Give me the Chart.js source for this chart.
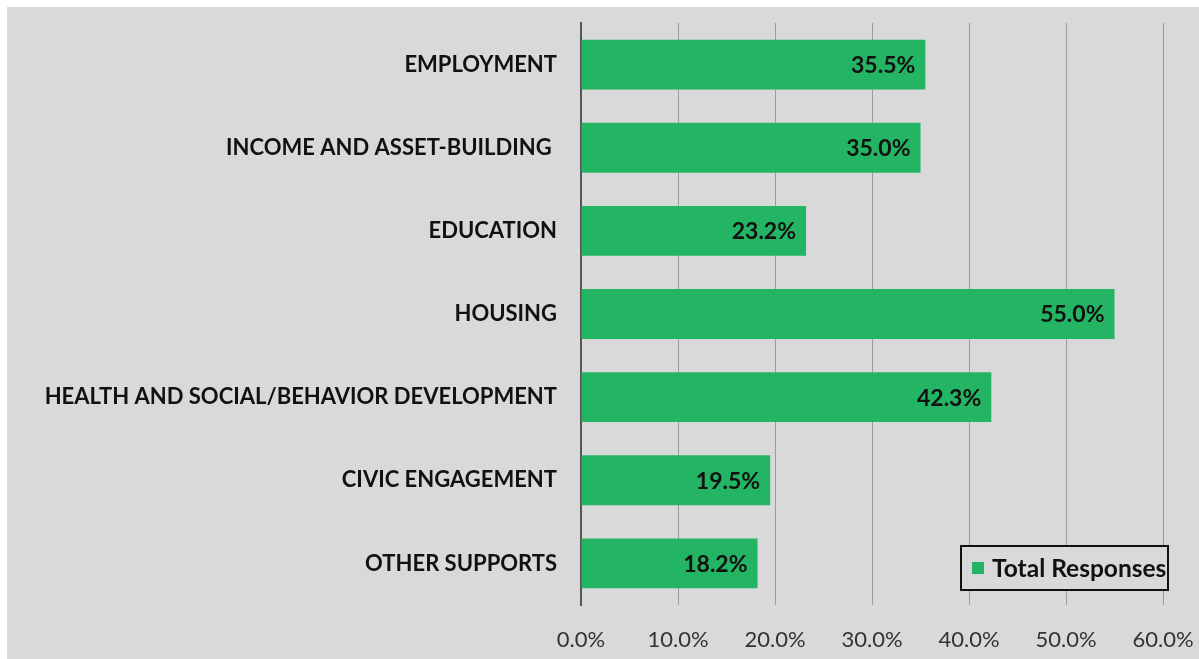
<!DOCTYPE html>
<html>
<head>
<meta charset="utf-8">
<script src="https://cdn.jsdelivr.net/npm/chart.js@4/dist/chart.umd.min.js"></script>
<style>
html,body{margin:0;padding:0;background:#ffffff;}
#wrap{position:absolute;left:7px;top:7px;width:1192px;height:652px;background:#d9d9d9;}
canvas{display:block;}
</style>
</head>
<body>
<div id="wrap"><canvas id="c" width="1192" height="652"></canvas></div>
<script>
const categories = [
  "EMPLOYMENT",
  "INCOME AND ASSET-BUILDING ",
  "EDUCATION",
  "HOUSING",
  "HEALTH AND SOCIAL/BEHAVIOR DEVELOPMENT",
  "CIVIC ENGAGEMENT",
  "OTHER SUPPORTS"
];
const totalResponses = [35.5, 35.0, 23.2, 55.0, 42.3, 19.5, 18.2];
const seriesName = "Total Responses";
const xTicks = [0, 10, 20, 30, 40, 50, 60];

const FONT = "Lato, 'Open Sans', sans-serif";
const GREEN = "#23b563";

const valueLabels = {
  id: 'valueLabels',
  afterDatasetsDraw(chart) {
    const ctx = chart.ctx;
    const meta = chart.getDatasetMeta(0);
    ctx.save();
    ctx.font = "bold 23px " + FONT;
    ctx.fillStyle = "#111";
    ctx.textAlign = "right";
    ctx.textBaseline = "middle";
    meta.data.forEach((bar, i) => {
      const v = chart.data.datasets[0].data[i];
      ctx.fillText(v.toFixed(1) + "%", bar.x - 10, bar.y + 1);
    });
    ctx.restore();
  }
};

const boxLegend = {
  id: 'boxLegend',
  afterDraw(chart) {
    const ctx = chart.ctx;
    const a = chart.chartArea;
    const w = 207, h = 44;
    const x = a.right + 5 - w, y = a.bottom - 15 - h;
    ctx.save();
    ctx.fillStyle = "#d9d9d9";
    ctx.fillRect(x, y, w, h);
    ctx.strokeStyle = "#111";
    ctx.lineWidth = 2;
    ctx.strokeRect(x, y, w, h);
    ctx.fillStyle = GREEN;
    ctx.fillRect(x + 11, y + 16, 12, 12);
    ctx.font = "bold 24.5px " + FONT;
    ctx.fillStyle = "#111";
    ctx.textAlign = "left";
    ctx.textBaseline = "middle";
    ctx.fillText(seriesName, x + 31, y + h / 2 + 1);
    ctx.restore();
  }
};

new Chart(document.getElementById('c'), {
  type: 'bar',
  data: {
    labels: categories,
    datasets: [{
      label: seriesName,
      data: totalResponses,
      backgroundColor: GREEN,
      borderWidth: 0,
      categoryPercentage: 0.6,
      barPercentage: 1.0
    }]
  },
  options: {
    indexAxis: 'y',
    responsive: false,
    animation: false,
    devicePixelRatio: 1,
    layout: { padding: { top: 16, right: 36, left: 0, bottom: 0 } },
    plugins: { legend: { display: false }, tooltip: { enabled: false } },
    scales: {
      x: {
        min: 0, max: 60,
        afterBuildTicks(scale) { scale.ticks = xTicks.map(v => ({ value: v })); },
        afterFit(scale) {
          scale.height = 54;
          scale.paddingLeft = 0; scale.paddingRight = 0;
        },
        grid: { color: "#9c9c9c", lineWidth: 1, drawTicks: false },
        border: { display: false },
        ticks: {
          padding: 22,
          color: "#333",
          maxRotation: 0,
          font: { family: FONT, size: 22 },
          callback: v => Number(v).toFixed(1) + "%"
        }
      },
      y: {
        afterFit(scale) {
          scale.width = 574;
          scale.paddingTop = 0; scale.paddingBottom = 0;
        },
        grid: { display: false, drawTicks: false },
        border: { display: true, color: "#555", width: 2 },
        ticks: {
          padding: 24,
          color: "#111",
          font: { family: FONT, size: 22, weight: 'bold' }
        }
      }
    }
  },
  plugins: [valueLabels, boxLegend]
});
</script>
</body>
</html>
